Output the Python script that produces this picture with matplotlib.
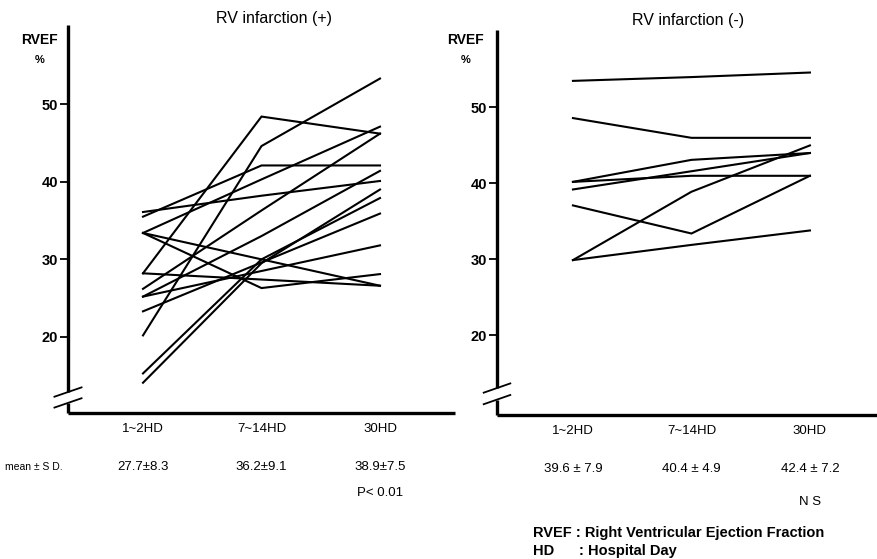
import matplotlib
matplotlib.use("Agg")
import matplotlib.pyplot as plt

# x categories (hospital day)
days = ["1~2HD", "7~14HD", "30HD"]

# RV infarction (+): RVEF (%) per patient at each time point
pos_d1 = [20.2, 28.2, 14.1, 15.3, 35.5, 36.1, 33.4, 33.4, 28.2, 26.2, 25.2, 23.3, 33.4, 25.2]
pos_d7 = [44.6, 48.4, 29.5, 30.0, 42.1, 38.2, 30.0, 40.3, 27.4, 36.3, 33.0, 29.6, 26.3, 28.5]
pos_d30 = [53.3, 46.2, 39.0, 37.9, 42.1, 40.1, 26.6, 47.1, 26.6, 46.2, 41.4, 35.9, 28.1, 31.8]
pos_stats = ["27.7\u00b18.3", "36.2\u00b19.1", "38.9\u00b17.5"]
pos_p = "P< 0.01"

# RV infarction (-)
neg_d1 = [53.5, 48.6, 40.2, 40.2, 39.2, 37.1, 29.9, 29.9]
neg_d7 = [54.0, 46.0, 43.1, 41.0, 41.6, 33.4, 38.9, 31.9]
neg_d30 = [54.6, 46.0, 44.0, 41.0, 44.0, 41.0, 45.0, 33.8]
neg_stats = ["39.6 \u00b1 7.9", "40.4 \u00b1 4.9", "42.4 \u00b1 7.2"]
neg_p = "N S"

yticks = [20, 30, 40, 50]

W, H = 877, 559
FONT = "Liberation Sans"


def fx(px):
    return px / W


def fy(py):
    return 1 - py / H


def panel(fig, rect, ylim, xlim, d1, d7, d30, stats, pval, p_y, brk):
    ax = fig.add_axes(rect)
    for a, b, c in zip(d1, d7, d30):
        ax.plot([0, 1, 2], [a, b, c], color="black", lw=1.5, solid_joinstyle="miter")
    ax.set_xlim(*xlim)
    ax.set_ylim(*ylim)
    for s in ax.spines.values():
        s.set_visible(False)

    # axis lines drawn by hand to get the break on the y axis
    kw = dict(transform=ax.transAxes, color="black", lw=2.4, clip_on=False,
              solid_capstyle="butt")
    ax.plot([0, 0], [brk[0], 1], **kw)
    ax.plot([0, 0], [0, brk[1]], **kw)
    ax.plot([0, 1], [0, 0], **kw)
    for yb in brk:
        ax.plot([-0.035, 0.035], [yb - 0.012, yb + 0.012], transform=ax.transAxes,
                color="black", lw=1.3, clip_on=False)

    ax.set_yticks(yticks)
    ax.set_yticklabels([str(t) for t in yticks], fontfamily=FONT,
                       fontweight="bold", fontsize=10.5)
    ax.tick_params(axis="y", direction="out", length=6, width=1.3, pad=1)
    ax.set_xticks([0, 1, 2])
    ax.set_xticklabels(days, fontfamily=FONT, fontsize=9.5)
    ax.tick_params(axis="x", length=0, pad=7)

    tr = ax.get_xaxis_transform()
    for i, s in enumerate(stats):
        ax.text(i, -0.14, s, transform=tr, ha="center", va="center",
                fontfamily=FONT, fontsize=9.5)
    ax.text(2, p_y, pval, transform=tr,
            ha="center", va="center", fontfamily=FONT, fontsize=9.5)
    return ax


fig = plt.figure(figsize=(W / 100, H / 100), dpi=100)

# left panel: axis at x=68, bottom y=413, top y=25
panel(fig, [fx(68), fy(413), fx(455 - 68), (413 - 25) / H],
      (10.2, 60.2), (-0.633, 2.633), pos_d1, pos_d7, pos_d30,
      pos_stats, pos_p, -0.205, (0.054, 0.026))

# right panel: axis at x=497, bottom y=415, top y=30
panel(fig, [fx(497), fy(415), fx(877 - 497), (415 - 30) / H],
      (9.5, 60.2), (-0.641, 2.566), neg_d1, neg_d7, neg_d30,
      neg_stats, neg_p, -0.225, (0.07, 0.04))

# panel titles
fig.text(fx(274), fy(18), "RV infarction (+)", ha="center", va="center",
         fontfamily=FONT, fontsize=11.5)
fig.text(fx(688), fy(20), "RV infarction (-)", ha="center", va="center",
         fontfamily=FONT, fontsize=11.5)

# axis titles
for x in (40, 466):
    fig.text(fx(x), fy(40), "RVEF", ha="center", va="center",
             fontfamily=FONT, fontweight="bold", fontsize=10)
    fig.text(fx(x), fy(60), "%", ha="center", va="center",
             fontfamily=FONT, fontweight="bold", fontsize=8)

fig.text(fx(5), fy(467), "mean \u00b1 S D.", ha="left", va="center",
         fontfamily=FONT, fontsize=7.5)

fig.text(fx(533), fy(533), "RVEF : Right Ventricular Ejection Fraction",
         ha="left", va="center", fontfamily=FONT, fontweight="bold", fontsize=10.5)
fig.text(fx(533), fy(551), "HD      : Hospital Day",
         ha="left", va="center", fontfamily=FONT, fontweight="bold", fontsize=10.5)

fig.savefig("out.png", dpi=100)
